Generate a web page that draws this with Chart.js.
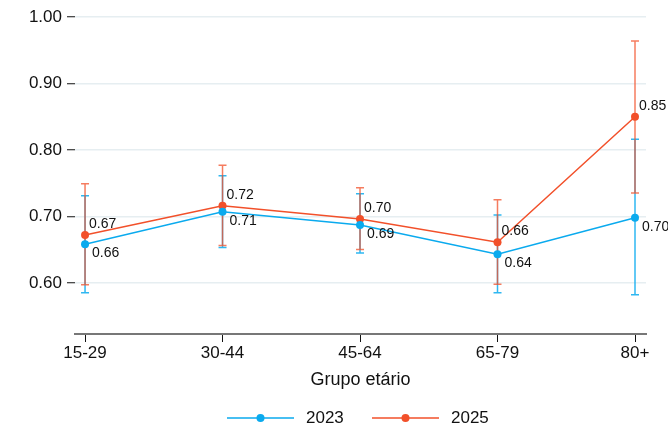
<!DOCTYPE html>
<html>
<head>
<meta charset="utf-8">
<script src="https://cdn.jsdelivr.net/npm/chart.js@4"></script>
<style>
  html, body { margin: 0; padding: 0; background: #fff; }
  #wrap { width: 668px; height: 425px; }
</style>
</head>
<body>
<div id="wrap"><canvas id="chart"></canvas></div>
<script>
const ageGroups = ['15-29', '30-44', '45-64', '65-79', '80+'];
const yTicks = [0.6, 0.7, 0.8, 0.9, 1.0];

const mean2023 = [0.658, 0.707, 0.687, 0.643, 0.698];
const low2023  = [0.585, 0.653, 0.645, 0.585, 0.582];
const high2023 = [0.731, 0.761, 0.734, 0.702, 0.816];
const label2023 = ['0.66', '0.71', '0.69', '0.64', '0.70'];

const mean2025 = [0.672, 0.716, 0.696, 0.661, 0.850];
const low2025  = [0.597, 0.656, 0.650, 0.598, 0.735];
const high2025 = [0.749, 0.777, 0.743, 0.725, 0.964];
const label2025 = ['0.67', '0.72', '0.70', '0.66', '0.85'];

const blue = 'rgb(10,170,238)';
const red = 'rgb(242,80,42)';
const FONT = '"Liberation Sans", Arial, sans-serif';

const series = [
  { name: '2023', color: blue, mean: mean2023, low: low2023, high: high2023, labels: label2023, dx: 7, dy: 9, alpha: 0.85 },
  { name: '2025', color: red, mean: mean2025, low: low2025, high: high2025, labels: label2025, dx: 4, dy: -11, alpha: 0.75 }
];

// error bars under the lines
const errorBars = {
  id: 'errorBars',
  beforeDatasetsDraw(chart) {
    const { ctx, scales: { x, y } } = chart;
    ctx.save();
    ctx.lineWidth = 1.5;
    series.forEach(s => {
      ctx.strokeStyle = s.color;
      ctx.globalAlpha = s.alpha;
      s.mean.forEach((_, i) => {
        const px = x.getPixelForValue(i);
        const top = y.getPixelForValue(s.high[i]);
        const bot = y.getPixelForValue(s.low[i]);
        ctx.beginPath();
        ctx.moveTo(px, top); ctx.lineTo(px, bot);
        ctx.moveTo(px - 4, top); ctx.lineTo(px + 4, top);
        ctx.moveTo(px - 4, bot); ctx.lineTo(px + 4, bot);
        ctx.stroke();
      });
    });
    ctx.restore();
  }
};

// value labels and legend
const extras = {
  id: 'extras',
  afterDatasetsDraw(chart) {
    const { ctx } = chart;
    ctx.save();
    ctx.fillStyle = '#111';
    ctx.font = '14px ' + FONT;
    ctx.textAlign = 'left';
    ctx.textBaseline = 'middle';
    series.forEach((s, di) => {
      chart.getDatasetMeta(di).data.forEach((pt, i) => {
        ctx.fillText(s.labels[i], pt.x + s.dx, pt.y + s.dy);
      });
    });

    const ly = 418;
    const items = [{ x0: 227, s: series[0] }, { x0: 372, s: series[1] }];
    items.forEach(it => {
      ctx.strokeStyle = it.s.color;
      ctx.lineWidth = 1.5;
      ctx.beginPath();
      ctx.moveTo(it.x0, ly); ctx.lineTo(it.x0 + 67, ly);
      ctx.stroke();
      ctx.fillStyle = it.s.color;
      ctx.beginPath();
      ctx.arc(it.x0 + 33.5, ly, 4, 0, Math.PI * 2);
      ctx.fill();
      ctx.fillStyle = '#111';
      ctx.font = '17px ' + FONT;
      ctx.fillText(it.s.name, it.x0 + 79, ly);
    });
    ctx.restore();
  }
};

new Chart(document.getElementById('chart'), {
  type: 'line',
  data: {
    datasets: series.map(s => ({
      label: s.name,
      data: s.mean.map((v, i) => ({ x: i, y: v })),
      borderColor: s.color,
      backgroundColor: s.color,
      borderWidth: 1.5,
      pointRadius: 4,
      pointBorderWidth: 0,
      tension: 0
    }))
  },
  options: {
    responsive: true,
    maintainAspectRatio: false,
    animation: false,
    layout: { padding: { top: 17, right: 22, bottom: 31, left: 0 } },
    plugins: { legend: { display: false }, tooltip: { enabled: false } },
    scales: {
      x: {
        type: 'linear',
        min: -0.073,
        max: 4.08,
        afterBuildTicks(scale) { scale.ticks = ageGroups.map((_, i) => ({ value: i })); },
        afterFit(scale) { scale.height = 60; },
        ticks: {
          color: '#111',
          font: { family: FONT, size: 17 },
          padding: 1,
          callback: v => ageGroups[v]
        },
        grid: { drawOnChartArea: false, tickColor: '#111', tickLength: 8, tickWidth: 1 },
        border: { color: '#777', width: 2 },
        title: {
          display: true,
          text: 'Grupo etário',
          color: '#111',
          font: { family: FONT, size: 18 },
          padding: { top: 4, bottom: 3 }
        }
      },
      y: {
        min: 0.523,
        max: 1.0,
        afterBuildTicks(scale) { scale.ticks = yTicks.map(v => ({ value: v })); },
        afterFit(scale) { scale.width = 75; },
        ticks: {
          color: '#111',
          font: { family: FONT, size: 17 },
          padding: 5,
          callback: v => v.toFixed(2)
        },
        grid: { color: '#e6eef1', lineWidth: 1.5, tickColor: '#111', tickLength: 8, tickWidth: 1 },
        border: { display: false }
      }
    }
  },
  plugins: [errorBars, extras]
});
</script>
</body>
</html>
